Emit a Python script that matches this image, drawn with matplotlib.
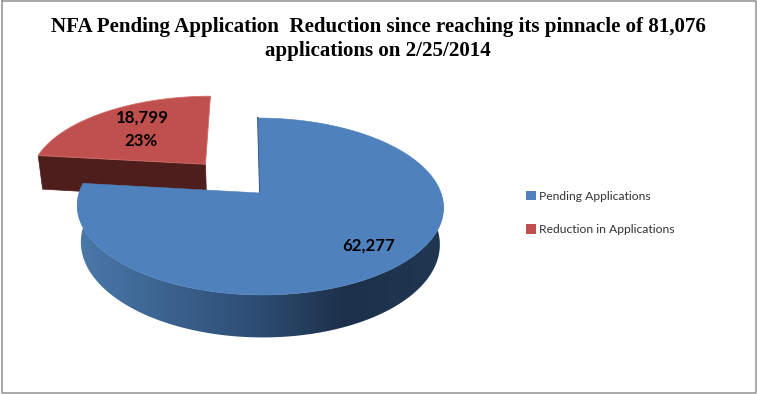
#!/usr/bin/env python3
"""Exploded perspective pie of NFA pending applications."""

import math

import matplotlib
matplotlib.use("Agg")
import matplotlib.pyplot as plt
import numpy as np
from matplotlib.colors import to_rgb
from matplotlib.patches import Patch, Polygon

categories = ["Pending Applications", "Reduction in Applications"]
values = [62277, 18799]
colors = ["#4f81bd", "#c0504d"]
title = ("NFA Pending Application  Reduction since reaching its pinnacle of 81,076\n"
         "applications on 2/25/2014")

# Perspective disc: unit circle mapped to canvas pixels
CX, CY = 260.0, 193.0
RX, RY = 181.0, 86.4
PERSP = 0.1525
SHEAR = 0.027
DEPTH = 36.0
BOTTOM_SHRINK = 0.98
EXPLODE = 0.47

# Rim colours for the blue side, by canvas x
RIM_STOPS = [(78, "#4a78aa"), (260, "#2c4c72"), (345, "#1d3049"), (445, "#203752")]


def project(u, v):
    w = 1.0 + PERSP * v
    y = CY - RY * v / w
    return CX + RX * u / w + SHEAR * (y - CY), y


def project_bottom(u, v):
    x, y = project(u, v)
    return CX + (x - CX) * BOTTOM_SHRINK, y + DEPTH / (1.0 + PERSP * v)


def arc(start, end, off_u=0.0, off_v=0.0, n=240):
    pts = []
    for i in range(n + 1):
        t = math.radians(start + (end - start) * i / n)
        pts.append((math.sin(t) + off_u, math.cos(t) + off_v))
    return pts


fig = plt.figure(figsize=(7.57, 3.94), dpi=100)
ax = fig.add_axes([0, 0, 1, 1])

total = sum(values)
blue_end = 360.0 * values[0] / total
mid = math.radians((blue_end + 360.0) / 2)
off_u, off_v = EXPLODE * math.sin(mid), EXPLODE * math.cos(mid)

# red slice sits behind the blue one
red_rim = arc(blue_end, 360.0, off_u, off_v)
apex = (off_u, off_v)
left = red_rim[0]
ax.add_patch(Polygon([project(*apex), project(*left), project_bottom(*left), project_bottom(*apex)],
                     closed=True, fc="#4d1e1b", ec="#4d1e1b", lw=0.5))
ax.add_patch(Polygon([project(*p) for p in [apex] + red_rim], closed=True,
                     fc=colors[1], ec="#cf6f6b", lw=0.6))

# blue side band: horizontal gradient clipped to the rim outline
xs = np.arange(70, 450)
stops_x = [s[0] for s in RIM_STOPS]
stops_rgb = np.array([to_rgb(s[1]) for s in RIM_STOPS])
grad = np.stack([np.interp(xs, stops_x, stops_rgb[:, i]) for i in range(3)], axis=-1)[np.newaxis, :, :]
band_rim = arc(90.0, blue_end, n=300)
band = Polygon([project(*p) for p in band_rim] + [project_bottom(*p) for p in reversed(band_rim)],
               closed=True, transform=ax.transData, fc="none", ec="none")
ax.add_patch(band)
img = ax.imshow(grad, extent=(70, 450, 400, 0), aspect="auto", interpolation="bilinear", zorder=1)
img.set_clip_path(band)

# blue top face over the band
blue_rim = arc(0.0, blue_end, n=360)
ax.plot(*zip(project(0, 0), project(0, 1)), color="#1d3049", lw=1.2, zorder=2)
ax.add_patch(Polygon([project(0, 0)] + [project(*p) for p in blue_rim], closed=True,
                     fc=colors[0], ec=colors[0], lw=0.4, zorder=3))

ax.set_xlim(0, 757)
ax.set_ylim(394, 0)
ax.axis("off")

label_font = dict(family="Lato", fontsize=12.2, fontweight="bold", color="black",
                  ha="center", va="center", zorder=5)
ax.text(369, 246, f"{values[0]:,}", **label_font)
ax.text(142, 118, f"{values[1]:,}", **label_font)
ax.text(141, 141, f"{round(100 * values[1] / total)}%", **label_font)

ax.text(378, 39, title, family="Liberation Serif", fontsize=15.1, fontweight="bold",
        ha="center", va="center", linespacing=1.22, color="black")

handles = [Patch(fc=c, ec="none") for c in colors]
ax.legend(handles, categories, loc="upper left", bbox_to_anchor=(521 / 757, 1 - 186 / 394),
          frameon=False, prop={"family": "Lato", "size": 8.7}, labelcolor="#333333",
          handlelength=0.85, handleheight=0.85, handletextpad=0.2, labelspacing=1.85,
          borderpad=0.4, borderaxespad=0)

# screenshot border
ax.plot([1.5, 1.5, 755.5, 755.5, 1.5], [0.8, 392.5, 392.5, 0.8, 0.8], color="#999999", lw=1.2,
        clip_on=False, zorder=6)

fig.savefig("out.png", dpi=100)
plt.close(fig)
